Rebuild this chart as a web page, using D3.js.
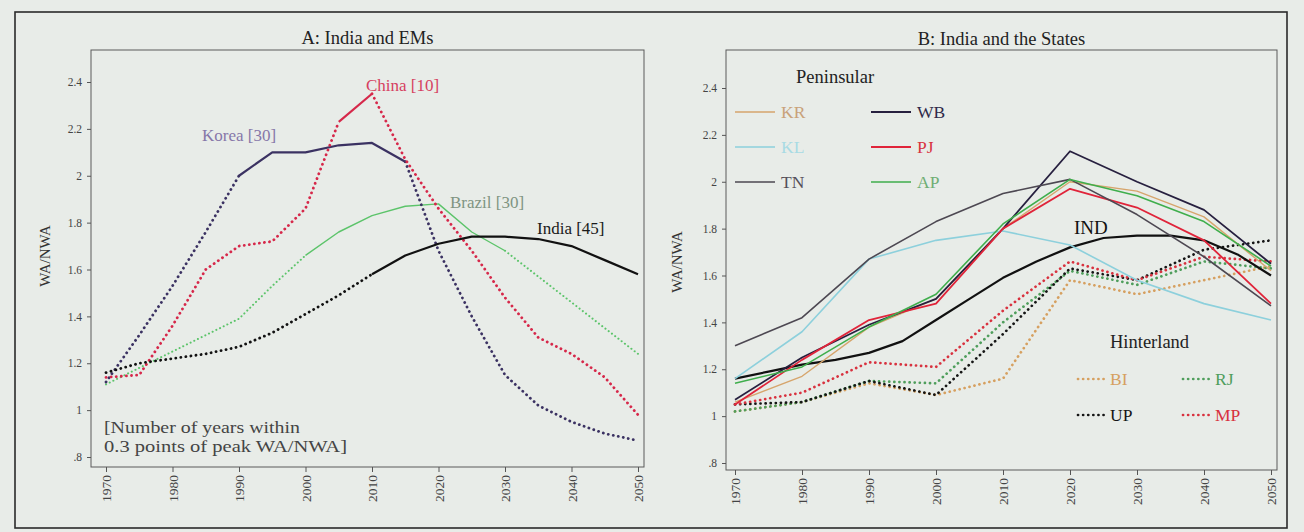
<!DOCTYPE html>
<html>
<head>
<meta charset="utf-8">
<script src="https://cdn.jsdelivr.net/npm/d3@7"></script>
<style>
  body { margin: 0; background: #e8ece8; }
  svg { display: block; }
  text { font-family: "Liberation Serif", "DejaVu Serif", serif; }
</style>
</head>
<body>
<div id="chart"></div>
<script>
// Panel A: India and EMs (5-year points)
const yearsA = [1970, 1975, 1980, 1985, 1990, 1995, 2000, 2005, 2010, 2015, 2020, 2025, 2030, 2035, 2040, 2045, 2050];
const korea  = [1.12, 1.32, 1.53, 1.76, 2.00, 2.10, 2.10, 2.13, 2.14, 2.06, 1.68, 1.40, 1.15, 1.02, 0.95, 0.90, 0.87];
const china  = [1.14, 1.15, 1.36, 1.60, 1.70, 1.72, 1.86, 2.23, 2.35, 2.07, 1.86, 1.68, 1.48, 1.31, 1.24, 1.14, 0.98];
const brazil = [1.11, 1.18, 1.25, 1.32, 1.39, 1.53, 1.66, 1.76, 1.83, 1.87, 1.88, 1.76, 1.68, 1.57, 1.46, 1.35, 1.24];
const india  = [1.16, 1.20, 1.22, 1.24, 1.27, 1.33, 1.41, 1.49, 1.58, 1.66, 1.71, 1.74, 1.74, 1.73, 1.70, 1.64, 1.58];

// years within 0.3 points of peak (drawn solid)
const countryNames = ["Korea", "China", "Brazil", "India"];
const peakYears    = [30, 10, 30, 45];
const solidFrom    = [1990, 2005, 2000, 2010];
const solidTo      = [2015, 2010, 2030, 2050];

// Panel B: India and the States (10-year points)
const yearsB = [1970, 1980, 1990, 2000, 2010, 2020, 2030, 2040, 2050];
const KR = [1.06, 1.17, 1.38, 1.50, 1.80, 2.00, 1.96, 1.85, 1.62];
const KL = [1.16, 1.36, 1.67, 1.75, 1.79, 1.73, 1.58, 1.48, 1.41];
const TN = [1.30, 1.42, 1.67, 1.83, 1.95, 2.01, 1.86, 1.68, 1.47];
const WB = [1.07, 1.25, 1.39, 1.50, 1.80, 2.13, 2.00, 1.88, 1.65];
const PJ = [1.05, 1.24, 1.41, 1.48, 1.80, 1.97, 1.89, 1.75, 1.48];
const AP = [1.14, 1.21, 1.38, 1.52, 1.82, 2.01, 1.94, 1.83, 1.64];
const BI = [1.02, 1.06, 1.14, 1.09, 1.16, 1.58, 1.52, 1.58, 1.64];
const RJ = [1.02, 1.06, 1.15, 1.14, 1.40, 1.62, 1.56, 1.66, 1.63];
const UP = [1.05, 1.06, 1.15, 1.09, 1.35, 1.63, 1.58, 1.71, 1.75];
const MP = [1.05, 1.10, 1.23, 1.21, 1.45, 1.66, 1.58, 1.68, 1.66];
const indB = [1.16, 1.19, 1.22, 1.24, 1.27, 1.32, 1.41, 1.50, 1.59, 1.66, 1.72, 1.76, 1.77, 1.77, 1.75, 1.69, 1.60];

const yTicks = [0.8, 1, 1.2, 1.4, 1.6, 1.8, 2, 2.2, 2.4];
const xTicks = [1970, 1980, 1990, 2000, 2010, 2020, 2030, 2040, 2050];

const width = 1304, height = 532;
const svg = d3.select("#chart").append("svg")
  .attr("width", width)
  .attr("height", height);

svg.append("rect").attr("width", width).attr("height", height).attr("fill", "#e8ece8");

// outer frame
svg.append("rect")
  .attr("x", 15).attr("y", 12)
  .attr("width", 1272).attr("height", 516)
  .attr("fill", "none")
  .attr("stroke", "#2a2a2a")
  .attr("stroke-width", 1.6);

const fmt = d => String(+d.toFixed(1)).replace(/^0\./, ".");

function drawFrame(p) {
  const g = svg.append("g");
  g.append("rect")
    .attr("x", p.box[0]).attr("y", p.box[1])
    .attr("width", p.box[2] - p.box[0]).attr("height", p.box[3] - p.box[1])
    .attr("fill", "none").attr("stroke", "#5a5a5a").attr("stroke-width", 1);

  const ya = g.append("g")
    .attr("transform", `translate(${p.box[0]},0)`)
    .call(d3.axisLeft(p.y).tickValues(yTicks).tickFormat(fmt).tickSize(4).tickPadding(5));
  ya.select(".domain").remove();
  ya.selectAll("line").attr("stroke", "#555");
  ya.selectAll("text").attr("font-size", 11.5).attr("fill", "#444")
    .style("font-family", "Liberation Serif, serif");

  const xa = g.append("g")
    .attr("transform", `translate(0,${p.box[3]})`)
    .call(d3.axisBottom(p.x).tickValues(xTicks).tickFormat(d => d).tickSize(5));
  xa.select(".domain").remove();
  xa.selectAll("line").attr("stroke", "#555");
  xa.selectAll("text")
    .attr("font-size", 13.5).attr("fill", "#444")
    .style("font-family", "Liberation Serif, serif")
    .attr("transform", "rotate(-90)")
    .attr("text-anchor", "end")
    .attr("x", -8).attr("y", 0).attr("dy", "0.35em");

  g.append("text")
    .attr("x", (p.box[0] + p.box[2]) / 2).attr("y", p.titleY)
    .attr("text-anchor", "middle").attr("font-size", 18.5).attr("fill", "#222")
    .text(p.title);

  g.append("text")
    .attr("transform", `translate(${p.ylabX},${p.ylabY}) rotate(-90)`)
    .attr("text-anchor", "middle").attr("font-size", 15).attr("fill", "#333")
    .text("WA/NWA");
}

function addLine(p, years, vals, opt) {
  const pts = years.map((yr, i) => ({ yr, v: vals[i] }));
  const line = d3.line().x(d => p.x(d.yr)).y(d => p.y(d.v));
  const path = svg.append("path")
    .datum(pts)
    .attr("fill", "none")
    .attr("stroke", opt.color)
    .attr("stroke-width", opt.width)
    .attr("stroke-linejoin", "round")
    .attr("d", line);
  if (opt.dotted) {
    path.attr("stroke-dasharray", opt.dash || "0.1,5").attr("stroke-linecap", "round");
  }
  return path;
}

// ---- Panel A ----
const pA = {
  box: [91, 50, 644, 467],
  x: d3.scaleLinear().domain([1970, 2050]).range([106, 638]),
  y: d3.scaleLinear().domain([0.8, 2.4]).range([457, 82]),
  title: "A: India and EMs", titleY: 44,
  ylabX: 50, ylabY: 256
};
drawFrame(pA);

const seriesA = [brazil, korea, china, india];
const idxA = [2, 0, 1, 3];
const colA = ["#3b3262", "#d6284a", "#5cc46a", "#111111"];
const widA = [2.2, 2.2, 1.4, 2.2];
const dotWA = [2.8, 2.8, 2.0, 2.8];

seriesA.forEach((vals, k) => {
  const i = idxA[k];
  const pre = yearsA.map((y, j) => j).filter(j => yearsA[j] <= solidFrom[i]);
  const mid = yearsA.map((y, j) => j).filter(j => yearsA[j] >= solidFrom[i] && yearsA[j] <= solidTo[i]);
  const post = yearsA.map((y, j) => j).filter(j => yearsA[j] >= solidTo[i]);
  [pre, post].forEach(ix => {
    if (ix.length > 1) addLine(pA, ix.map(j => yearsA[j]), ix.map(j => vals[j]),
      { color: colA[i], width: dotWA[i], dotted: true, dash: i === 2 ? "0.1,4" : "0.1,5" });
  });
  addLine(pA, mid.map(j => yearsA[j]), mid.map(j => vals[j]), { color: colA[i], width: widA[i] });
});

const labA = [
  { x: 202, y: 141, color: "#8677a8" },
  { x: 366, y: 91, color: "#d64060" },
  { x: 450, y: 208, color: "#7f9482" },
  { x: 537, y: 234, color: "#1a1a1a" }
];
labA.forEach((l, i) => {
  svg.append("text").attr("x", l.x).attr("y", l.y)
    .attr("font-size", 17).attr("fill", l.color)
    .text(`${countryNames[i]} [${peakYears[i]}]`);
});

svg.append("text").attr("x", 104).attr("y", 433)
  .attr("font-size", 17).attr("fill", "#444")
  .attr("textLength", 196).attr("lengthAdjust", "spacingAndGlyphs")
  .text("[Number of  years within");
svg.append("text").attr("x", 104).attr("y", 452)
  .attr("font-size", 17).attr("fill", "#444")
  .attr("textLength", 243).attr("lengthAdjust", "spacingAndGlyphs")
  .text("0.3 points of  peak WA/NWA]");

// ---- Panel B ----
const pB = {
  box: [726, 50, 1277, 470],
  x: d3.scaleLinear().domain([1970, 2050]).range([735, 1271]),
  y: d3.scaleLinear().domain([0.8, 2.4]).range([463, 88]),
  title: "B: India and the States", titleY: 45,
  ylabX: 682, ylabY: 262
};
drawFrame(pB);

const hinter = [
  { name: "BI", vals: BI, color: "#d6a060" },
  { name: "RJ", vals: RJ, color: "#4f9e5c" },
  { name: "UP", vals: UP, color: "#151515" },
  { name: "MP", vals: MP, color: "#d8323f" }
];
const penin = [
  { name: "KR", vals: KR, color: "#d6a56c", width: 1.4 },
  { name: "WB", vals: WB, color: "#27203f", width: 1.8 },
  { name: "KL", vals: KL, color: "#8dd0dc", width: 1.6 },
  { name: "PJ", vals: PJ, color: "#e0243a", width: 1.8 },
  { name: "TN", vals: TN, color: "#4d4852", width: 1.6 },
  { name: "AP", vals: AP, color: "#3fae4c", width: 1.6 }
];

hinter.forEach(s => addLine(pB, yearsB, s.vals, { color: s.color, width: 2.7, dotted: true }));
addLine(pB, yearsA, indB, { color: "#111", width: 2.2 });
penin.forEach(s => addLine(pB, yearsB, s.vals, { color: s.color, width: s.width }));

svg.append("text").attr("x", 1074).attr("y", 234)
  .attr("font-size", 19).attr("fill", "#111").text("IND");

// legends
svg.append("text").attr("x", 796).attr("y", 83)
  .attr("font-size", 18.5).attr("fill", "#222").text("Peninsular");
const penLabCol = ["#c9a27a", "#2f2a4a", "#a8dbe4", "#d8333f", "#55505a", "#6fae74"];
penin.forEach((s, i) => {
  const col = i % 2, row = Math.floor(i / 2);
  const x0 = col === 0 ? 735 : 871, yy = 112 + row * 35;
  svg.append("line").attr("x1", x0).attr("x2", x0 + 40).attr("y1", yy).attr("y2", yy)
    .attr("stroke", s.color).attr("stroke-width", s.width);
  svg.append("text").attr("x", x0 + 46).attr("y", yy + 6)
    .attr("font-size", 17.5).attr("fill", penLabCol[i]).text(s.name);
});

svg.append("text").attr("x", 1110).attr("y", 348)
  .attr("font-size", 18.5).attr("fill", "#222").text("Hinterland");
hinter.forEach((s, i) => {
  const col = i % 2, row = Math.floor(i / 2);
  const x0 = col === 0 ? 1078 : 1183, yy = 379 + row * 36;
  svg.append("line").attr("x1", x0).attr("x2", x0 + 28).attr("y1", yy).attr("y2", yy)
    .attr("stroke", s.color).attr("stroke-width", 2.7)
    .attr("stroke-dasharray", "0.1,5").attr("stroke-linecap", "round");
  svg.append("text").attr("x", x0 + 32).attr("y", yy + 6)
    .attr("font-size", 17.5).attr("fill", s.color).text(s.name);
});
</script>
</body>
</html>
